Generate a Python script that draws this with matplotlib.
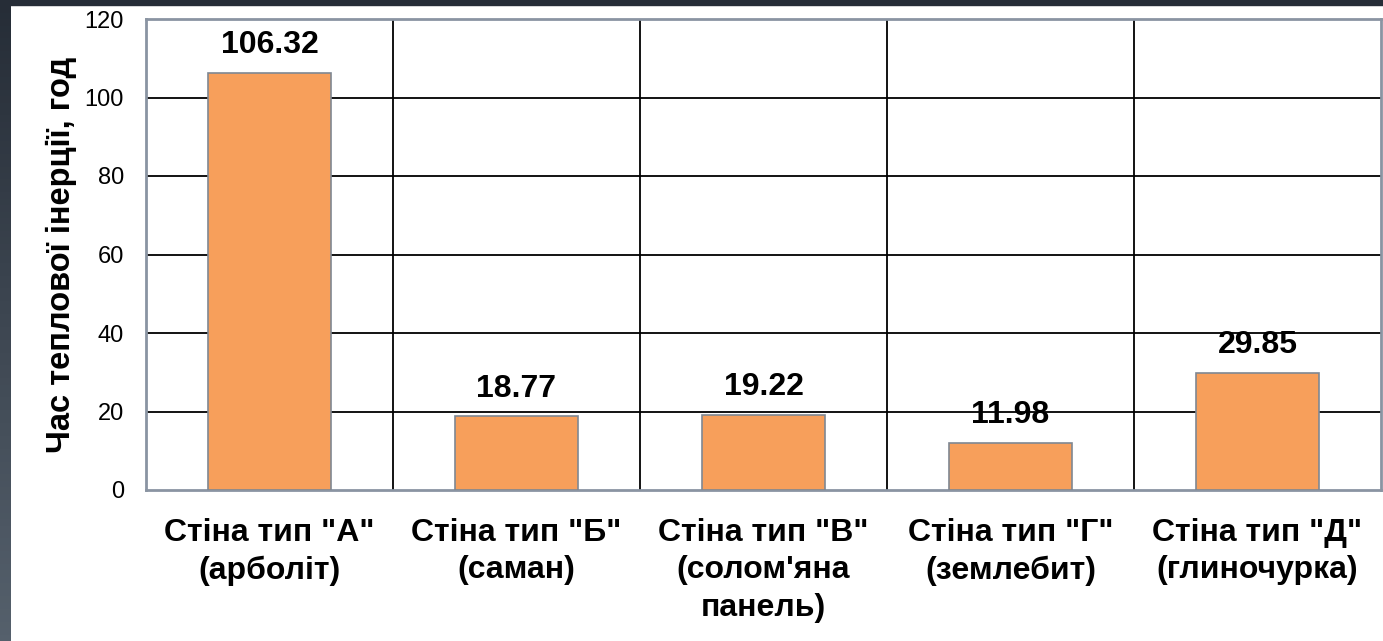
import numpy as np
import matplotlib
matplotlib.use("Agg")
from matplotlib import pyplot as plt
from matplotlib.patches import Rectangle

# Дані
categories = ['Стіна тип "А"\n(арболіт)', 'Стіна тип "Б"\n(саман)',
              'Стіна тип "В"\n(солом\'яна\nпанель)', 'Стіна тип "Г"\n(землебит)',
              'Стіна тип "Д"\n(глиночурка)']
values = [106.32, 18.77, 19.22, 11.98, 29.85]
y_ticks = [0, 20, 40, 60, 80, 100, 120]

plt.rcParams['font.family'] = ['Liberation Sans', 'DejaVu Sans']

W, H = 1383, 641
fig = plt.figure(figsize=(W / 100, H / 100), dpi=100)
fig.patch.set_facecolor('white')

# темна рамка зліва та зверху
strip = fig.add_axes([0, 0, 11 / W, 1])
grad = np.linspace(0, 1, 100).reshape(-1, 1)
strip.imshow(grad, aspect='auto', cmap=matplotlib.colors.LinearSegmentedColormap.from_list(
    'g', ['#262d37', '#55606c']), extent=[0, 1, 0, 1], origin='upper')
strip.axis('off')
fig.patches.append(Rectangle((0, 1 - 5 / H), 1, 5 / H, transform=fig.transFigure,
                             color='#262d37', zorder=0))

ax = fig.add_axes([146 / W, (H - 490) / H, (1381 - 146) / W, (490 - 19) / H])
x = np.arange(len(categories))
bars = ax.bar(x, values, width=0.5, color='#F79F5B', edgecolor='#7f8792',
              linewidth=1.2, zorder=3)

ax.set_xlim(-0.5, len(categories) - 0.5)
ax.set_ylim(0, 120)
ax.set_yticks(y_ticks)
ax.set_yticklabels([str(v) for v in y_ticks], fontsize=17)
ax.tick_params(axis='y', length=0, pad=16)
ax.tick_params(axis='x', length=0, pad=20)

# сітка
for v in y_ticks[1:-1]:
    ax.axhline(v, color='black', linewidth=1.3, zorder=1)
for k in range(1, len(categories)):
    ax.axvline(k - 0.5, color='black', linewidth=1.3, zorder=1)

for s in ax.spines.values():
    s.set_color('#8a94a2')
    s.set_linewidth(2)

ax.set_xticks(x)
ax.set_xticklabels(categories, fontsize=23, fontweight='bold', linespacing=1.33)
ax.set_ylabel('Час теплової інерції, год', fontsize=23.5, fontweight='bold', labelpad=5)

for xi, v in zip(x, values):
    ax.annotate(f'{v:.2f}', (xi, v), xytext=(0, 9), textcoords='offset points',
                ha='center', va='bottom', fontsize=23, fontweight='bold')

fig.savefig('out.png', dpi=100)
